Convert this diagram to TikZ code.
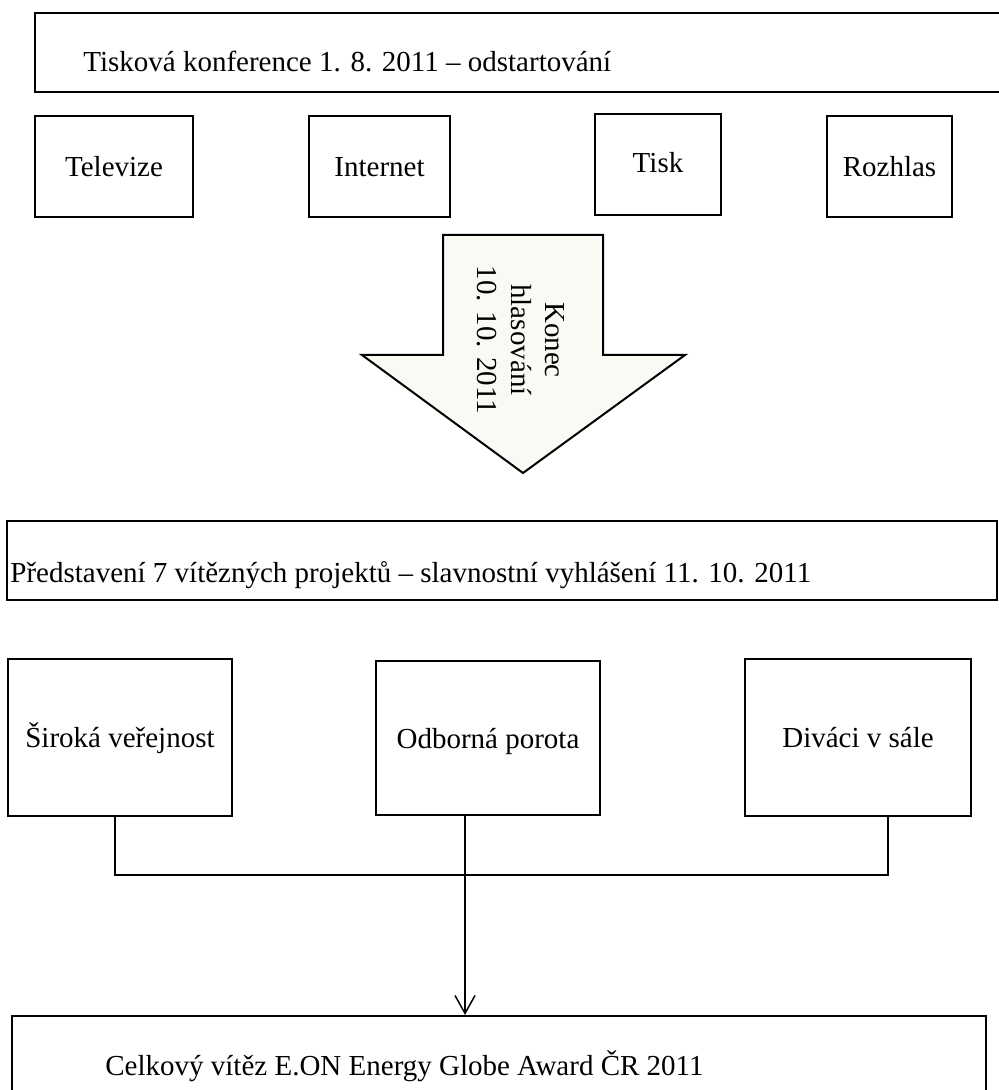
\documentclass[tikz,border=0pt]{standalone}
\usepackage{fontspec}
\setmainfont{Liberation Serif}
\usepackage{tikz}
\usetikzlibrary{arrows.meta}
\definecolor{cream}{RGB}{250,250,245}
\tikzset{box/.style={draw, line width=1pt, inner sep=0pt, text height=10pt, text depth=0pt},
	txt/.style={inner sep=0pt, font=\fontsize{14.5}{17}\selectfont}}

\begin{document}
\begin{tikzpicture}[>={Straight Barb[length=9pt,width=10pt]}, x=0.5pt, y=-0.5pt, every node/.append style={font=\fontsize{14.5}{17}\selectfont}]
	\useasboundingbox (0,0) rectangle (998,1090);
%	\draw [help lines, step=50] (0,0) grid (998,1090);
	\node [box, minimum width=484.5pt, minimum height=39.5pt] (start) at (519.5,52.5) {};
	\node [txt, anchor=base west] (starttxt) at (83,72) {Tisková konference 1. 8. 2011 – odstartování};
	\node [box, minimum width=79pt, minimum height=50.5pt] (tv) at (114,166.5) {Televize};
	\node [box, minimum width=70.5pt, minimum height=50.5pt] (net) at (379.5,166.5) {Internet};
	\node [box, minimum width=63pt, minimum height=50.5pt] (tisk) at (658,165) {\raisebox{1pt}{Tisk}};
	\node [box, minimum width=62.5pt, minimum height=50.5pt] (radio) at (889.5,166.5) {Rozhlas};
	% velka sipka
	\draw [line width=1pt, fill=cream] (443,235) -- (603,235) -- (603,355) -- (685,355) -- (523,473)
		-- (362,355) -- (443,355) -- cycle;
	\node [txt, rotate=-90, align=center] (vote) at (521,340) {Konec\\hlasování\\10. 10. 2011};
	\node [box, minimum width=495pt, minimum height=39.5pt] (show) at (502,560.5) {};
	\node [txt, anchor=base west] (showtxt) at (10,582) {Představení 7 vítězných projektů – slavnostní vyhlášení 11. 10. 2011};
	\node [box, minimum width=112pt, minimum height=78.5pt] (pub) at (120,737.5) {Široká veřejnost};
	\node [box, minimum width=112pt, minimum height=77pt] (jury) at (488,738) {Odborná porota};
	\node [box, minimum width=113pt, minimum height=78.5pt] (hall) at (858,737.5) {Diváci v sále};
	\node [box, minimum width=487pt, minimum height=42pt] (win) at (499,1058) {};
	\node [txt, anchor=base west] (wintxt) at (105,1075) {Celkový vítěz E.ON Energy Globe Award ČR 2011};
	\coordinate (join) at (465,875);
	\draw [line width=0.75pt] ([xshift=-2.5pt]pub.south) |- (join) -| ([xshift=15pt]hall.south);
	\draw [->, line width=0.75pt] ([xshift=-11.5pt]jury.south) -- ([xshift=-17pt]win.north);
\end{tikzpicture}
\end{document}
